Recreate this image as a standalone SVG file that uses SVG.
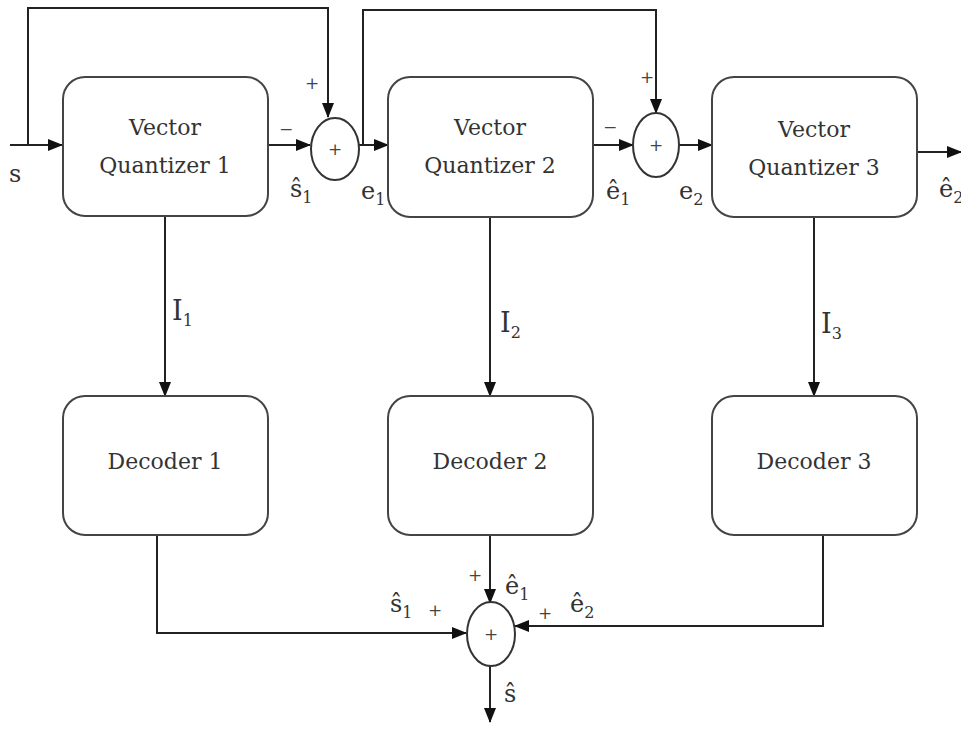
<svg xmlns="http://www.w3.org/2000/svg" width="961" height="730" viewBox="0 0 961 730">
<style>
.box{fill:#fff;stroke:#444;stroke-width:2}
.sum{fill:#fff;stroke:#333;stroke-width:2}
.ln{fill:none;stroke:#222;stroke-width:2}
text{font-family:"DejaVu Serif","Liberation Serif","Times New Roman",serif;fill:#333}
.t{font-size:22px;text-anchor:middle}
.l{font-size:24px}
.big{font-size:27px}
.sub{font-size:16px}
.p{font-size:17px;fill:#444;text-anchor:middle}
</style>
<defs>
<marker id="ah" markerWidth="15" markerHeight="12" refX="14" refY="6" orient="auto" markerUnits="userSpaceOnUse">
<path d="M0,0 L15,6 L0,12 Z" fill="#111"/>
</marker>
</defs>
<g id="connectors">
<path class="ln" d="M10,145 H62" marker-end="url(#ah)"/>
<path class="ln" d="M28,145 V8 H328 V117" marker-end="url(#ah)"/>
<path class="ln" d="M268,145 H310" marker-end="url(#ah)"/>
<path class="ln" d="M359,145 H388" marker-end="url(#ah)"/>
<path class="ln" d="M363,145 V10 H656 V113" marker-end="url(#ah)"/>
<path class="ln" d="M593,145 H633" marker-end="url(#ah)"/>
<path class="ln" d="M679,145 H712" marker-end="url(#ah)"/>
<path class="ln" d="M917,152 H961" marker-end="url(#ah)"/>
<path class="ln" d="M165,216 V396" marker-end="url(#ah)"/>
<path class="ln" d="M490,217 V396" marker-end="url(#ah)"/>
<path class="ln" d="M814,217 V396" marker-end="url(#ah)"/>
<path class="ln" d="M157,535 V633 H466" marker-end="url(#ah)"/>
<path class="ln" d="M490,535 V603" marker-end="url(#ah)"/>
<path class="ln" d="M823,535 V626 H515" marker-end="url(#ah)"/>
<path class="ln" d="M490,666 V722" marker-end="url(#ah)"/>
</g>
<g id="vq1"><rect class="box" x="63" y="77" width="205" height="139" rx="22"/><text class="t" x="165" y="135">Vector</text><text class="t" x="165" y="173">Quantizer 1</text></g>
<g id="vq2"><rect class="box" x="388" y="77" width="205" height="140" rx="22"/><text class="t" x="490" y="135">Vector</text><text class="t" x="490" y="173">Quantizer 2</text></g>
<g id="vq3"><rect class="box" x="712" y="77" width="205" height="140" rx="22"/><text class="t" x="814" y="137">Vector</text><text class="t" x="814" y="175">Quantizer 3</text></g>
<g id="dec1"><rect class="box" x="63" y="396" width="205" height="139" rx="22"/><text class="t" x="165" y="469">Decoder 1</text></g>
<g id="dec2"><rect class="box" x="388" y="396" width="205" height="139" rx="22"/><text class="t" x="490" y="469">Decoder 2</text></g>
<g id="dec3"><rect class="box" x="712" y="396" width="205" height="139" rx="22"/><text class="t" x="814" y="469">Decoder 3</text></g>
<g id="sum1"><ellipse class="sum" cx="335" cy="149" rx="24" ry="31"/><text class="p" x="335" y="155">+</text></g>
<g id="sum2"><ellipse class="sum" cx="656" cy="145" rx="23" ry="32"/><text class="p" x="656" y="151">+</text></g>
<g id="sum3"><ellipse class="sum" cx="491" cy="634" rx="24" ry="32"/><text class="p" x="491" y="640">+</text></g>
<g id="labels">
<text class="l" x="9" y="182">s</text>
<text class="p" x="312" y="89">+</text>
<text class="p" x="286" y="135">−</text>
<text class="l" x="290" y="197">ŝ<tspan class="sub" dy="6">1</tspan></text>
<text class="l" x="361" y="199">e<tspan class="sub" dy="6">1</tspan></text>
<text class="p" x="647" y="83">+</text>
<text class="p" x="610" y="133">−</text>
<text class="l" x="606" y="199">ê<tspan class="sub" dy="6">1</tspan></text>
<text class="l" x="679" y="199">e<tspan class="sub" dy="6">2</tspan></text>
<text class="l" x="939" y="197">ê<tspan class="sub" dy="6">2</tspan></text>
<text class="big" x="172" y="320">I<tspan class="sub" dy="6">1</tspan></text>
<text class="big" x="500" y="332">I<tspan class="sub" dy="6">2</tspan></text>
<text class="big" x="821" y="333">I<tspan class="sub" dy="6">3</tspan></text>
<text class="l" x="390" y="612">ŝ<tspan class="sub" dy="6">1</tspan></text>
<text class="p" x="435" y="616">+</text>
<text class="p" x="475" y="581">+</text>
<text class="l" x="505" y="594">ê<tspan class="sub" dy="6">1</tspan></text>
<text class="p" x="545" y="619">+</text>
<text class="l" x="570" y="612">ê<tspan class="sub" dy="6">2</tspan></text>
<text class="l" x="504" y="702">ŝ</text>
</g>
</svg>
